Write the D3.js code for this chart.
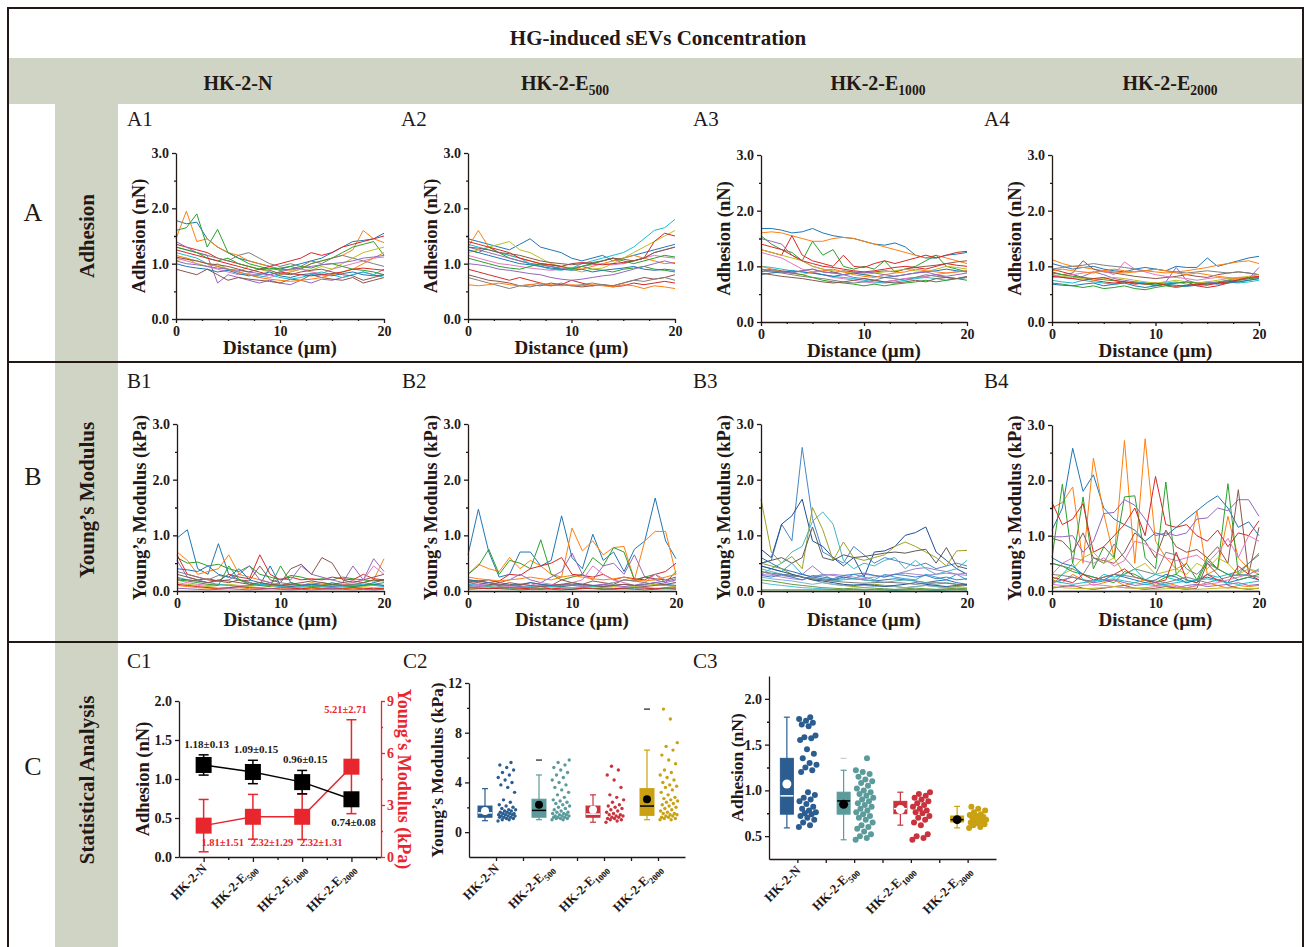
<!DOCTYPE html>
<html lang="en">
<head>
<meta charset="UTF-8">
<title>HG-induced sEVs Concentration</title>
<script src="https://cdnjs.cloudflare.com/ajax/libs/d3/7.8.5/d3.min.js"></script>
<style>
  * { margin: 0; padding: 0; box-sizing: border-box; }
  body { background: #fff; width: 1306px; height: 947px; overflow: hidden; }
  svg { display: block; font-family: 'Times New Roman', 'Liberation Serif', serif; }
  .axis path, .axis line { stroke: #231815; stroke-width: 1.3; }
  .axis text { font-family: 'Times New Roman', 'Liberation Serif', serif; font-size: 14px; font-weight: bold; fill: #231815; }
  .red path, .red line { stroke: #e8262d; }
  .red text { fill: #e8262d; }
</style>
</head>
<body>
<div id="chart"></div>
<script>
// ---- data ----
const distance = [0,1,2,3,4,5,6,7,8,9,10,11,12,13,14,15,16,17,18,19,20];

const adhesionA1 = [
  [1.78,1.72,1.75,1.45,1.3,1.2,1.1, 1.05,1,0.95,0.9,0.95,1,1.05, 1.1,1.2,1.3,1.4,1.42,1.45,1.55],
  [1.45,1.95,1.4,1.45,1.3,1.2,1.15, 1.05,1,0.95,0.9,0.88,0.92,1, 1.05,1.1,1.15,1.25,1.6,1.45,1.38],
  [1.6,1.65,1.9,1.3,1.62,1.2,1.1, 1,0.95,0.9,0.92,0.95,0.9,1, 1.05,1.1,1.2,1.3,1.35,1.4,1.15],
  [1.35,1.3,1.25,1.2,1.1,1.05,1, 0.95,0.9,0.95,1,1.05,1.1,1.2, 1.15,1.2,1.3,1.35,1.4,1.45,1.5],
  [1.4,1.3,1.2,1.15,0.65,0.8,0.75, 0.7,0.65,0.7,0.65,0.62,0.7,0.65, 0.72,0.7,0.75,0.8,0.85,0.8,0.9],
  [0.9,0.85,0.8,0.9,0.8,0.7,0.75, 0.72,0.7,0.68,0.65,0.72,0.7,0.8, 0.75,0.72,0.7,0.75,0.65,0.7,0.75],
  [1.1,1.05,1,0.95,0.9,0.85,0.8, 0.82,0.78,0.75,0.8,0.85,0.9,0.85, 0.82,0.9,0.95,1,1.05,1.1,1.12],
  [1.3,1.25,1.2,1.15,1.1,1.05,1.15, 1.2,1.1,1,0.95,1,0.95,1.05, 1,1.1,1.15,1.1,1.05,1,0.95],
  [1.05,1.1,1,0.95,1,0.9,0.85, 0.95,0.9,0.85,0.8,0.85,0.9,0.88, 0.95,0.9,1,1.1,1.2,1.25,1.3],
  [1.2,1.15,1.1,1,0.95,0.9,0.85, 0.8,0.75,0.8,0.75,0.72,0.75,0.8, 0.85,0.8,0.75,0.8,0.85,0.8,0.75],
  [1,0.95,0.92,0.9,0.85,0.88,0.82, 0.78,0.8,0.85,0.78,0.75,0.8,0.82, 0.8,0.78,0.82,0.85,0.8,0.78,0.8],
  [1.15,1.1,1.05,1,0.95,0.9,0.85, 0.8,0.75,0.72,0.7,0.68,0.7,0.72, 0.75,0.8,0.85,0.9,1,1.1,1.2],
  [1.3,1.25,1.2,1.1,1.05,1.1,1, 0.95,0.9,0.92,0.88,0.9,0.95,0.92, 0.98,1,0.95,0.9,0.88,0.85,0.8],
  [1.25,1.2,1.15,1.1,1.05,1,0.95, 0.9,0.85,0.8,0.85,0.82,0.8,0.78, 0.8,0.82,0.85,0.9,0.92,0.9,0.88],
  [1.05,1,0.98,0.95,0.92,0.9,0.88, 0.85,0.82,0.8,0.85,0.9,0.92,0.95, 0.98,1,1.02,1.05,1.1,1.12,1.15],
  [1.12,1.08,1.05,1,0.98,0.95,0.9, 0.85,0.9,0.88,0.82,0.8,0.85,0.88, 0.9,0.85,0.8,0.78,0.7,0.75,0.8]
];
const adhesionA2 = [
  [1.45,1.4,1.35,1.3,1.25,1.35,1.45, 1.3,1.25,1.2,1.1,1.05,1.1,1.15, 1.05,1.1,1.15,1.2,1.25,1.3,1.35],
  [1.3,1.6,1.3,1.2,1.15,1.1,1.05, 1,0.98,0.95,0.92,0.9,0.95,1, 1.05,1.1,1.15,1.1,1.05,1,1.02],
  [1.25,1.2,1.3,1.2,1.1,1.05,1, 0.98,0.95,0.9,0.92,0.95,0.9,0.88, 0.85,0.9,0.92,0.95,0.9,0.88,0.85],
  [0.9,0.85,0.8,0.75,0.7,0.75,0.7, 0.65,0.6,0.62,0.7,0.65,0.6,0.62, 0.58,0.6,0.65,0.62,0.65,0.68,0.65],
  [1.3,1.25,1.2,1.15,1.1,1.05,1, 0.98,0.95,0.92,0.9,0.95,1,1.05, 1.1,1,1.05,1.1,1.2,1.25,1.3],
  [0.8,0.75,0.7,0.68,0.65,0.6,0.62, 0.6,0.65,0.62,0.6,0.58,0.6,0.62, 0.6,0.65,0.7,0.75,0.72,0.75,0.8],
  [1.15,1.1,1.05,1,0.98,0.95,0.92, 0.9,0.88,0.9,0.92,0.95,0.98,1, 0.98,1,1.05,1.1,1.15,1.12,1.1],
  [0.75,0.7,0.65,0.6,0.55,0.6,0.58, 0.62,0.6,0.65,0.6,0.62,0.65,0.62, 0.6,0.65,0.7,0.68,0.72,0.75,0.7],
  [1.2,1.25,1.3,1.35,1.4,1.25,1.2, 1.1,1,0.95,0.9,0.85,0.9,0.92, 1,1.1,1.2,1.3,1.4,1.5,1.6],
  [1.35,1.3,1.25,1.2,1.15,1.1,1, 0.95,0.9,0.88,0.92,1,1.05,1.1, 1.15,1.2,1.3,1.45,1.6,1.65,1.8],
  [1.25,1.2,1.15,1.1,1.05,1,0.98, 0.95,0.92,0.9,0.88,0.9,0.85,0.88, 0.9,0.92,0.95,0.9,0.88,0.9,0.88],
  [0.62,0.6,0.62,0.65,0.62,0.6,0.62, 0.65,0.62,0.6,0.62,0.6,0.62,0.6, 0.58,0.62,0.6,0.55,0.6,0.58,0.55],
  [1.1,1.05,1,0.95,0.92,0.9,0.95, 1,0.98,0.95,0.9,0.95,1,1.05, 1.1,1.05,1,1.05,1.1,1.15,1.12],
  [1.4,1.35,1.3,1.25,1.2,1.1,1.05, 1,0.98,0.95,1,1.02,1,0.98, 1,1.02,1.05,1.1,1.4,1.55,1.5],
  [1,0.98,0.95,0.9,0.88,0.85,0.82, 0.8,0.75,0.72,0.7,0.72,0.75,0.78, 0.8,0.85,0.9,0.95,1,1.05,1],
  [1.3,1.28,1.25,1.2,1.18,1.15,1.1, 1.05,1.02,1,0.98,1,1.02,1.05, 1.1,1.08,1.05,1.1,1.2,1.25,1.3]
];
const adhesionA3 = [
  [1.68,1.68,1.65,1.6,1.62,1.68,1.6, 1.55,1.52,1.5,1.45,1.4,1.38,1.42, 1.35,1.2,1.15,1.15,1.2,1.22,1.25],
  [1.6,1.62,1.6,1.55,1.5,1.45,1.45, 1.5,1.52,1.5,1.45,1.4,1.35,1.3, 1.25,1.2,1.15,1.2,1.15,1.1,1.05],
  [1.55,1.4,1.3,1.25,1.1,1.45,1.2, 1.3,1,0.95,1,0.95,1.1,0.9, 0.95,1,1.1,1.2,1,0.95,0.9],
  [1.3,1.25,1.2,1.55,1.2,1.1,1.05, 1,1.2,1,0.98,1.05,1.1,1.05, 1.1,1.15,1.2,1.15,1.2,1.25,1.27],
  [1.5,1.45,1.4,1.2,1.1,1,0.95, 0.9,0.85,0.8,0.78,0.75,0.72,0.75, 0.78,0.8,0.82,0.85,0.8,0.78,0.8],
  [0.9,0.95,0.92,0.9,0.92,0.95,0.9, 0.88,0.92,0.9,0.88,0.9,0.92,0.9, 0.95,0.98,1,1.02,1.05,1.08,1.1],
  [1.25,1.2,1.15,1.05,0.95,0.9,0.85, 0.8,0.78,0.75,0.72,0.7,0.72,0.75, 0.78,0.8,0.82,0.85,0.88,0.9,0.92],
  [0.92,0.9,0.88,0.85,0.82,0.8,0.78, 0.75,0.72,0.7,0.72,0.75,0.8,0.78, 0.75,0.8,0.85,0.82,0.8,0.78,0.8],
  [1.3,1.25,1.2,1.15,1.1,1,0.95, 0.92,0.9,0.88,0.85,0.88,0.9,0.92, 0.95,0.92,0.9,0.95,1,0.98,0.95],
  [1,0.98,0.95,0.92,0.9,0.88,0.85, 0.82,0.8,0.78,0.75,0.72,0.7,0.72, 0.75,0.78,0.8,0.78,0.75,0.78,0.8],
  [0.85,0.88,0.9,0.92,0.9,0.88,0.85, 0.82,0.85,0.88,0.85,0.82,0.8,0.82, 0.85,0.88,0.9,0.92,0.95,0.92,0.9],
  [1,0.95,0.9,0.88,0.85,0.9,0.92, 0.95,0.9,0.85,0.82,0.8,0.85,0.88, 0.9,0.95,0.92,0.9,0.88,0.9,0.92],
  [0.95,0.92,0.9,0.88,0.85,0.8,0.75, 0.72,0.7,0.68,0.65,0.68,0.65,0.68, 0.7,0.72,0.75,0.72,0.75,0.78,0.75],
  [1.4,1.35,1.3,1.2,1.1,1.05,1, 0.98,0.95,0.92,0.9,0.92,0.95,0.98, 1,0.98,0.95,1,1.05,1.02,1],
  [0.95,0.92,0.9,0.88,0.92,0.95,0.9, 0.88,0.85,0.88,0.9,0.88,0.85,0.82, 0.85,0.88,0.9,0.85,0.82,0.85,0.88],
  [0.88,0.85,0.82,0.8,0.78,0.75,0.72, 0.7,0.72,0.75,0.78,0.75,0.72,0.7, 0.72,0.75,0.72,0.78,0.8,0.78,0.82]
];
const adhesionA4 = [
  [1.05,1,0.95,0.98,1,0.95,0.92, 0.9,0.95,0.98,0.95,0.92,1,0.98, 0.98,1.15,1,1.05,1.1,1.15,1.18],
  [1.12,1.05,1,0.98,0.95,0.92,0.9, 0.88,0.9,0.92,0.9,0.88,0.9,0.92, 0.95,0.98,1.02,1.05,1.08,1.1,1.05],
  [0.7,0.68,0.65,0.62,0.65,0.6,0.62, 0.65,0.6,0.58,0.62,0.65,0.62,0.65, 0.68,0.7,0.72,0.75,0.72,0.75,0.78],
  [0.95,0.9,0.85,0.8,0.75,0.72,0.7, 0.72,0.68,0.7,0.65,0.68,0.7,0.72, 0.65,0.62,0.65,0.7,0.75,0.78,0.8],
  [0.85,0.8,0.78,0.82,0.9,0.85,0.78, 0.75,0.72,0.7,0.68,0.72,0.98,0.75, 0.7,0.72,0.7,0.75,0.8,0.78,0.98],
  [0.9,0.85,0.88,1.1,0.95,0.9,0.88, 0.85,0.82,0.8,0.78,0.8,0.82,0.85, 0.82,0.8,0.85,0.88,0.9,0.88,0.85],
  [0.8,0.82,0.85,0.88,0.9,0.92,0.85, 1.08,0.95,0.9,0.85,0.82,0.8,0.78, 0.75,0.78,0.8,0.78,0.75,0.78,0.8],
  [0.95,0.98,1,1.02,1.05,1.02,1, 0.98,0.95,0.92,0.95,0.92,0.9,0.88, 0.9,0.92,0.9,0.88,0.9,0.88,0.85],
  [0.85,0.82,0.8,0.78,0.75,0.78,0.8, 0.78,0.75,0.72,0.7,0.72,0.75,0.72, 0.7,0.72,0.75,0.78,0.8,0.82,0.85],
  [0.75,0.72,0.7,0.75,0.72,0.7,0.68, 0.7,0.72,0.7,0.68,0.7,0.72,0.68, 0.65,0.68,0.7,0.72,0.7,0.72,0.75],
  [0.68,0.66,0.65,0.68,0.7,0.65,0.68, 0.7,0.65,0.62,0.65,0.68,0.66,0.64, 0.66,0.7,0.68,0.7,0.72,0.75,0.78],
  [0.92,0.95,0.92,0.9,0.88,0.92,0.95, 0.92,0.9,0.92,0.95,0.92,0.88,0.85, 0.88,0.85,0.82,0.8,0.78,0.8,0.82],
  [0.88,0.85,0.82,0.8,0.78,0.76,0.74, 0.72,0.7,0.68,0.66,0.68,0.7,0.72, 0.7,0.68,0.7,0.72,0.75,0.78,0.8],
  [0.82,0.8,0.78,0.75,0.78,0.8,0.75, 0.72,0.7,0.68,0.7,0.66,0.64,0.66, 0.68,0.66,0.7,0.72,0.76,0.8,0.82]
];

const modulusB1 = [
  [0.95,1.1,0.4,0.3,0.85,0.3,0.2, 0.15,0.1,0.45,0.1,0.15,0.1,0.12, 0.1,0.15,0.1,0.12,0.1,0.15,0.2],
  [0.7,0.55,0.3,0.35,0.4,0.65,0.3, 0.25,0.2,0.15,0.1,0.12,0.1,0.15, 0.12,0.1,0.12,0.1,0.15,0.2,0.58],
  [0.6,0.5,0.52,0.45,0.48,0.4,0.35, 0.45,0.3,0.25,0.2,0.28,0.25,0.2, 0.22,0.2,0.25,0.22,0.2,0.18,0.2],
  [0.65,0.3,0.25,0.2,0.18,0.3,0.25, 0.22,0.65,0.3,0.2,0.25,0.2,0.22, 0.2,0.25,0.22,0.2,0.3,0.22,0.2],
  [0.55,0.25,0.2,0.15,0.18,0.2,0.3, 0.45,0.2,0.15,0.22,0.2,0.45,0.3, 0.25,0.2,0.15,0.45,0.2,0.58,0.35],
  [0.3,0.25,0.2,0.22,0.18,0.15,0.2, 0.18,0.45,0.2,0.15,0.4,0.48,0.3, 0.6,0.5,0.2,0.15,0.2,0.25,0.3],
  [0.2,0.15,0.12,0.1,0.12,0.1,0.08, 0.1,0.12,0.1,0.08,0.1,0.12,0.1, 0.08,0.1,0.12,0.15,0.2,0.45,0.3],
  [0.35,0.3,0.25,0.2,0.28,0.25,0.2, 0.15,0.12,0.1,0.15,0.12,0.1,0.12, 0.15,0.12,0.1,0.12,0.15,0.12,0.1],
  [0.15,0.12,0.1,0.08,0.1,0.12,0.1, 0.08,0.06,0.08,0.1,0.08,0.06,0.05, 0.08,0.06,0.05,0.06,0.08,0.06,0.05],
  [0.25,0.2,0.18,0.15,0.12,0.1,0.08, 0.1,0.12,0.1,0.08,0.06,0.08,0.1, 0.08,0.06,0.08,0.1,0.12,0.1,0.08],
  [0.4,0.38,0.35,0.45,0.3,0.25,0.4, 0.2,0.15,0.12,0.1,0.08,0.1,0.12, 0.1,0.08,0.1,0.08,0.1,0.12,0.1],
  [0.1,0.08,0.06,0.05,0.04,0.05,0.06, 0.04,0.03,0.05,0.04,0.03,0.04,0.05, 0.04,0.03,0.04,0.05,0.04,0.03,0.04],
  [0.2,0.18,0.15,0.12,0.1,0.45,0.2, 0.12,0.1,0.08,0.45,0.15,0.1,0.08, 0.1,0.12,0.1,0.08,0.1,0.12,0.15],
  [0.12,0.1,0.08,0.06,0.05,0.06,0.08, 0.06,0.05,0.04,0.06,0.05,0.04,0.06, 0.05,0.04,0.05,0.06,0.05,0.04,0.05],
  [0.05,0.04,0.03,0.02,0.03,0.04,0.03, 0.02,0.03,0.04,0.03,0.02,0.03,0.02, 0.03,0.04,0.03,0.02,0.03,0.02,0.03],
  [0.22,0.2,0.18,0.15,0.2,0.18,0.15, 0.12,0.15,0.12,0.1,0.12,0.15,0.18, 0.15,0.12,0.15,0.18,0.15,0.2,0.18]
];
const modulusB2 = [
  [0.65,1.47,0.7,0.25,0.3,0.7,0.7, 0.45,0.55,1.35,0.6,0.4,1.02,0.55, 0.7,0.35,0.75,0.9,1.67,0.9,0.58],
  [0.3,0.48,0.4,0.35,0.6,0.4,0.55, 0.45,0.3,0.25,1.13,0.72,0.9,0.65, 0.78,0.8,0.2,0.9,1.07,1.07,0.3],
  [0.3,0.45,0.75,0.3,0.55,0.5,0.4, 0.92,0.3,0.2,0.25,0.3,0.6,0.45, 0.78,0.7,0.2,0.25,0.3,0.15,0.35],
  [0.2,0.18,0.15,0.18,0.3,0.28,0.4, 0.45,0.5,0.6,0.3,0.28,0.25,0.3, 0.2,0.25,0.22,0.2,0.3,0.35,0.5],
  [0.15,0.12,0.1,0.15,0.2,0.3,0.2, 0.15,0.25,0.35,0.68,0.3,0.2,0.45, 0.5,0.3,0.65,0.25,0.2,0.15,0.2],
  [0.15,0.18,0.2,0.15,0.12,0.1,0.15, 0.12,0.1,0.2,0.15,0.12,0.18,0.15, 0.12,0.2,0.18,0.25,0.22,0.2,0.25],
  [0.1,0.12,0.15,0.1,0.08,0.12,0.1, 0.15,0.12,0.1,0.15,0.2,0.45,0.3, 0.2,0.15,0.1,0.15,0.3,0.2,0.15],
  [0.08,0.06,0.05,0.08,0.1,0.08,0.06, 0.05,0.08,0.1,0.12,0.1,0.08,0.12, 0.15,0.2,0.18,0.15,0.12,0.1,0.08],
  [0.05,0.06,0.08,0.06,0.05,0.04,0.06, 0.08,0.1,0.08,0.06,0.05,0.08,0.1, 0.08,0.06,0.08,0.1,0.12,0.1,0.08],
  [0.12,0.1,0.08,0.06,0.05,0.06,0.08, 0.1,0.08,0.06,0.05,0.06,0.08,0.06, 0.05,0.04,0.05,0.06,0.05,0.04,0.06],
  [0.2,0.18,0.15,0.12,0.1,0.12,0.15, 0.12,0.1,0.08,0.1,0.12,0.1,0.08, 0.1,0.12,0.1,0.12,0.15,0.12,0.1],
  [0.25,0.22,0.2,0.18,0.2,0.22,0.25, 0.22,0.2,0.25,0.28,0.25,0.22,0.2, 0.22,0.25,0.2,0.18,0.2,0.25,0.3],
  [0.03,0.04,0.05,0.04,0.03,0.02,0.03, 0.04,0.03,0.02,0.03,0.04,0.05,0.04, 0.03,0.04,0.03,0.02,0.03,0.04,0.03],
  [0.06,0.05,0.04,0.05,0.06,0.05,0.04, 0.03,0.05,0.04,0.03,0.05,0.04,0.03, 0.04,0.05,0.06,0.05,0.04,0.06,0.05],
  [0.1,0.08,0.1,0.12,0.1,0.08,0.06, 0.08,0.1,0.12,0.1,0.08,0.1,0.12, 0.1,0.08,0.1,0.12,0.15,0.18,0.22],
  [0.18,0.15,0.12,0.1,0.15,0.12,0.1, 0.08,0.1,0.12,0.15,0.12,0.1,0.08, 0.1,0.12,0.1,0.08,0.1,0.12,0.15]
];
const modulusB3 = [
  [0.5,0.55,1.2,0.9,2.58,1.3,0.7, 0.6,0.5,0.8,0.65,0.5,0.6,0.55, 0.5,0.45,0.5,0.4,0.45,0.5,0.45],
  [0.75,0.6,1.2,1.35,1.65,0.9,0.8, 0.6,0.45,0.6,0.25,0.7,0.72,0.8, 1,1.05,1.15,0.7,0.55,0.4,0.3],
  [1.65,0.7,0.5,0.62,0.4,1.5,1.1, 0.55,0.88,0.6,0.55,0.6,0.65,0.8, 0.88,0.8,0.7,0.6,0.45,0.72,0.73],
  [0.3,0.4,0.5,0.7,0.8,1.25,1.42, 1.2,0.55,0.4,0.5,0.45,0.55,0.6, 0.4,0.55,0.4,0.3,0.35,0.4,0.55],
  [0.5,0.55,0.6,0.5,0.6,1.15,0.6, 0.55,0.65,0.6,0.62,0.65,0.68,0.7, 0.68,0.72,0.75,0.5,0.78,0.45,0.4],
  [0.45,0.4,0.35,0.5,0.3,0.25,0.3, 0.2,0.22,0.3,0.25,0.2,0.3,0.25, 0.22,0.2,0.3,0.25,0.2,0.3,0.2],
  [0.35,0.3,0.28,0.25,0.3,0.45,0.3, 0.28,0.25,0.22,0.3,0.28,0.25,0.3, 0.35,0.4,0.42,0.38,0.35,0.3,0.32],
  [0.6,0.5,0.4,0.35,0.3,0.25,0.22, 0.2,0.25,0.22,0.2,0.18,0.2,0.22, 0.2,0.18,0.15,0.18,0.2,0.15,0.12],
  [0.5,0.45,0.4,0.3,0.25,0.2,0.15, 0.12,0.1,0.08,0.1,0.12,0.1,0.08, 0.06,0.08,0.1,0.08,0.06,0.08,0.1],
  [0.4,0.35,0.3,0.28,0.25,0.22,0.2, 0.18,0.2,0.22,0.2,0.18,0.15,0.18, 0.2,0.18,0.15,0.12,0.15,0.12,0.1],
  [0.25,0.22,0.2,0.18,0.15,0.12,0.15, 0.12,0.1,0.12,0.1,0.08,0.1,0.08, 0.06,0.08,0.1,0.08,0.06,0.05,0.06],
  [0.3,0.28,0.25,0.22,0.2,0.25,0.28, 0.3,0.28,0.25,0.22,0.25,0.28,0.3, 0.32,0.3,0.28,0.3,0.32,0.3,0.28],
  [0.45,0.4,0.35,0.3,0.25,0.2,0.18, 0.15,0.12,0.1,0.12,0.1,0.08,0.1, 0.12,0.15,0.12,0.1,0.08,0.1,0.12],
  [0.2,0.18,0.15,0.12,0.1,0.08,0.06, 0.05,0.04,0.05,0.06,0.05,0.04,0.03, 0.04,0.05,0.04,0.03,0.04,0.05,0.04],
  [0.35,0.32,0.3,0.28,0.25,0.22,0.2, 0.18,0.16,0.15,0.14,0.15,0.16,0.15, 0.14,0.12,0.14,0.15,0.14,0.12,0.1],
  [0.15,0.12,0.1,0.08,0.06,0.05,0.04, 0.03,0.02,0.03,0.02,0.03,0.02,0.01, 0.02,0.03,0.02,0.01,0.02,0.03,0.02],
  [0.02,0.02,0.02,0.02,0.02,0.02,0.02, 0.02,0.02,0.02,0.02,0.02,0.02,0.02, 0.02,0.02,0.02,0.02,0.02,0.02,0.02],
  [0.28,0.25,0.3,0.25,0.2,0.28,0.25, 0.22,0.28,0.3,0.32,0.28,0.25,0.3, 0.28,0.25,0.28,0.22,0.25,0.2,0.22]
];
const modulusB4 = [
  [1.1,1.5,2.58,1.8,2.1,1.5,1.3, 1.2,1.1,0.9,1.05,1,1.15,1.3, 1.45,1.6,1.72,1.5,1.15,1.25,1],
  [1.5,1.6,1.88,0.5,2.4,1.4,0.6, 2.72,0.5,2.75,0.9,0.6,0.4,0.5, 1.45,0.3,0.4,1.35,0.6,0.4,0.3],
  [0.6,1.93,0.5,1.7,0.4,0.8,0.6, 1.7,1.72,0.6,0.4,1.97,0.3,0.5, 0.2,0.6,0.4,1.94,0.3,0.5,0.68],
  [1.6,1.2,1.3,1.58,0.7,0.8,1, 1.2,1.5,1,2.07,1.2,1.15,1.2, 1,0.9,1.1,0.8,1.05,1,1.27],
  [0.98,0.98,1,0.7,0.9,1.4,1.42, 1.65,1.55,1.3,1,1.05,1,1.05, 1.3,1.32,1.5,1.45,1.65,1.65,1.35],
  [0.95,0.9,0.7,1.05,0.6,0.55,0.5, 0.7,1.05,0.9,0.6,1.1,0.8,0.7, 0.75,0.6,0.8,0.5,1.83,0.3,1.15],
  [0.3,0.5,0.6,0.55,0.5,0.6,0.45, 0.55,0.9,0.85,0.7,0.6,0.55,0.6, 0.65,0.5,0.7,0.95,0.6,1,0.9],
  [0.5,0.45,0.4,0.3,0.6,0.5,0.85, 0.6,0.4,0.35,0.3,0.7,0.65,0.4, 0.3,0.5,0.4,0.3,0.35,0.5,0.65],
  [0.2,0.3,0.4,0.6,0.7,0.5,0.6, 0.3,0.4,0.5,0.3,0.35,0.4,0.3, 0.5,0.4,0.6,0.5,0.3,0.4,0.35],
  [0.1,0.3,0.5,0.2,0.15,0.3,0.25, 0.3,0.4,0.2,0.3,0.25,0.2,0.15, 0.2,0.3,0.25,0.3,0.28,0.3,0.4],
  [0.6,0.5,0.45,0.3,0.25,0.2,0.3, 0.25,0.2,0.15,0.2,0.3,0.25,0.15, 0.2,0.25,0.2,0.15,0.2,0.25,0.2],
  [0.2,0.15,0.3,0.2,0.1,0.15,0.2, 0.1,0.15,0.2,0.1,0.15,0.1,0.05, 0.1,0.15,0.1,0.05,0.1,0.08,0.1],
  [0.5,0.45,0.35,0.3,0.25,0.2,0.15, 0.35,0.3,0.2,0.15,0.25,0.3,0.2, 0.15,0.55,0.4,0.3,0.2,0.25,0.3],
  [0.25,0.2,0.15,0.3,0.2,0.25,0.3, 0.4,0.25,0.2,0.15,0.2,0.7,0.2, 0.15,0.3,0.2,0.15,0.45,0.3,0.2],
  [0.15,0.2,0.25,0.2,0.15,0.18,0.2, 0.15,0.1,0.12,0.15,0.1,0.05,0.1, 0.12,0.08,0.1,0.12,0.15,0.1,0.12],
  [0.05,0.08,0.1,0.05,0.03,0.05,0.08, 0.1,0.05,0.03,0.05,0.08,0.05,0.03, 0.05,0.5,0.3,0.1,0.05,0.03,0.05],
  [0.12,0.1,0.08,0.1,0.12,0.1,0.08, 0.06,0.05,0.06,0.08,0.1,0.08,0.06, 0.1,0.12,0.15,0.2,0.25,0.3,0.38],
  [0.3,0.28,0.25,0.2,0.18,0.25,0.3, 0.28,0.25,0.2,0.18,0.15,0.2,0.25, 0.2,0.15,0.2,0.25,0.3,0.28,0.25],
  [0.08,0.06,0.05,0.04,0.05,0.06,0.08, 0.06,0.05,0.04,0.03,0.04,0.05,0.04, 0.03,0.04,0.05,0.06,0.05,0.04,0.05],
  [0.18,0.15,0.12,0.15,0.18,0.2,0.22, 0.18,0.15,0.12,0.1,0.12,0.15,0.18, 0.2,0.22,0.18,0.15,0.12,0.15,0.18]
];

// groups
const groupNames = ['HK-2-N', 'HK-2-E', 'HK-2-E', 'HK-2-E'];
const groupSubs = ['', '500', '1000', '2000'];

// C1: mean ± SD
const adhesionMean = [1.18, 1.09, 0.96, 0.74];
const adhesionSD = [0.13, 0.15, 0.15, 0.08];
const modulusMean = [1.81, 2.32, 2.32, 5.21];
const modulusSD = [1.51, 1.29, 1.31, 2.71];

// C2: Young's modulus (kPa) box stats + points
const c2Low = [0.92, 1.0, 0.8, 1.0];
const c2Q1 = [1.2, 1.2, 1.2, 1.35];
const c2Median = [1.55, 1.75, 1.45, 2.1];
const c2Q3 = [2.1, 2.65, 2.1, 3.5];
const c2High = [3.5, 4.6, 3.0, 6.6];
const c2Mean = [1.7, 2.2, 1.8, 2.65];
const c2Outlier = [null, 5.8, null, 9.9];
const c2Points = [
  [0.9,1,1,1.1,1.1,1.2,1.2,1.2,1.3,1.3,1.3,1.4,1.4,1.4,1.5,1.5,1.5,1.6,1.6,1.7,1.7,1.8,1.8,1.9,2,2.1,2.2,2.4,2.6,3.2,3.6,3.8,4,4.2,4.4,4.6,4.8,5,5.2,5.4,5.6],
  [1,1,1.1,1.1,1.1,1.2,1.2,1.2,1.3,1.3,1.3,1.4,1.4,1.5,1.5,1.6,1.6,1.7,1.8,1.9,2,2.1,2.2,2.3,2.4,2.5,2.6,2.8,3,3.2,3.4,3.6,3.8,4,4.2,4.4,4.6,4.8,5,5.2,5.4,5.6,5.8],
  [0.8,0.9,1,1,1.1,1.1,1.2,1.2,1.3,1.3,1.4,1.4,1.5,1.6,1.7,1.8,1.9,2,2.1,2.2,2.4,2.6,2.8,3,3.6,4.2,4.6,5,5.3],
  [1,1,1.1,1.1,1.2,1.2,1.3,1.3,1.4,1.4,1.5,1.5,1.6,1.7,1.8,1.9,2,2.1,2.2,2.3,2.4,2.5,2.6,2.7,2.8,3,3.2,3.4,3.6,3.7,3.8,4,4.2,4.4,4.6,4.8,5,5.5,5.8,6.2,6.6,6.9,7.2,9.1,9.9]
];

// C3: adhesion (nN) box stats + points
const c3Low = [0.59, 0.46, 0.62, 0.59];
const c3Q1 = [0.74, 0.74, 0.745, 0.655];
const c3Median = [0.94, 0.885, 0.8, 0.68];
const c3Q3 = [1.35, 0.98, 0.88, 0.72];
const c3High = [1.8, 1.22, 0.98, 0.825];
const c3Mean = [1.07, 0.847, 0.79, 0.68];
const c3Outlier = [null, 1.35, null, null];
const c3Points = [
  [0.6,0.62,0.65,0.68,0.7,0.72,0.74,0.75,0.76,0.78,0.8,0.82,0.85,0.88,0.9,0.92,0.95,0.98,1.2,1.22,1.25,1.28,1.3,1.35,1.4,1.45,1.55,1.57,1.58,1.6,1.7,1.72,1.74,1.76,1.78,1.8],
  [0.46,0.48,0.5,0.52,0.55,0.58,0.6,0.62,0.65,0.68,0.7,0.72,0.74,0.76,0.78,0.8,0.82,0.84,0.86,0.88,0.9,0.92,0.94,0.96,0.98,1,1.02,1.05,1.08,1.1,1.12,1.15,1.18,1.2,1.22,1.35],
  [0.46,0.48,0.5,0.52,0.62,0.65,0.68,0.7,0.72,0.75,0.76,0.78,0.8,0.82,0.84,0.86,0.88,0.9,0.92,0.94,0.96,0.98],
  [0.59,0.6,0.62,0.63,0.64,0.65,0.66,0.67,0.68,0.69,0.7,0.71,0.72,0.73,0.74,0.76,0.78,0.8,0.82]
];

// ---- drawing ----
const ink = '#231815';
const band = '#cfd4c5';
const red = '#e8262d';
const boxColors = ['#2b5d90', '#5c9b9b', '#c8333d', '#c9a112'];
const markColors = ['#fff', '#000', '#fff', '#000'];
const linePalette = d3.schemeCategory10;
const b3Palette = ['#4a86c5','#1f4e96','#a0a028','#3fb6c4','#5a5a5a','#2fa8d8','#9b7fc4','#2f6fb8',
                   '#8a9a30','#4bb8b0','#7fb0e0','#a888d0','#23508f','#6a9a3a','#777777','#50c0d0','#3a9a3a','#3f7fc0'];

const svg = d3.select('#chart').append('svg').attr('width', 1306).attr('height', 947);

// frame and bands
svg.append('rect').attr('x', 9).attr('y', 58).attr('width', 1293).attr('height', 46).attr('fill', band);
svg.append('rect').attr('x', 55).attr('y', 104).attr('width', 63).attr('height', 850).attr('fill', band);
svg.append('rect').attr('x', 8).attr('y', 8).attr('width', 1295).attr('height', 1000)
  .attr('fill', 'none').attr('stroke', ink).attr('stroke-width', 2);
[362, 642].forEach(y => svg.append('line').attr('x1', 8).attr('x2', 1303).attr('y1', y).attr('y2', y)
  .attr('stroke', ink).attr('stroke-width', 2));

svg.append('text').attr('x', 658).attr('y', 45).attr('text-anchor', 'middle')
  .attr('font-size', 21).attr('font-weight', 'bold').attr('fill', ink).text('HG-induced sEVs Concentration');

function groupText(parent, i, size, subDy) {
  const t = parent.append('text').attr('font-size', size).attr('font-weight', 'bold').attr('fill', ink);
  t.append('tspan').text(groupNames[i]);
  if (groupSubs[i]) t.append('tspan').attr('font-size', size * 0.68).attr('dy', subDy).text(groupSubs[i]);
  return t;
}

const headerX = [238, 565, 878, 1170];
headerX.forEach((x, i) => groupText(svg, i, 20, 5).attr('x', x).attr('y', 90).attr('text-anchor', 'middle'));

// row letters and titles
[['A', 212], ['B', 476], ['C', 766]].forEach(([t, y]) =>
  svg.append('text').attr('x', 33).attr('y', y).attr('text-anchor', 'middle').attr('dy', '0.35em')
    .attr('font-size', 26).attr('fill', ink).text(t));
[['Adhesion', 236], ['Young\u2019s Modulus', 500], ['Statistical Analysis', 780]].forEach(([t, y]) =>
  svg.append('text').attr('transform', `translate(87,${y}) rotate(-90)`).attr('text-anchor', 'middle')
    .attr('dy', '0.35em').attr('font-size', 21).attr('font-weight', 'bold').attr('fill', ink).text(t));

function panelLabel(x, y, t) {
  svg.append('text').attr('x', x).attr('y', y).attr('font-size', 21).attr('fill', ink).text(t);
}

function linePanel(p) {
  const x = d3.scaleLinear().domain([0, 20]).range([p.left, p.right]);
  const y = d3.scaleLinear().domain([0, 3]).range([p.bottom, p.top]);
  const g = svg.append('g');
  const line = d3.line().x((d, i) => x(distance[i])).y(d => y(d));
  g.selectAll('path.trace').data(p.traces).join('path').attr('class', 'trace')
    .attr('d', line).attr('fill', 'none').attr('stroke-width', 1)
    .attr('stroke', (d, i) => p.palette[i % p.palette.length]);

  g.append('g').attr('class', 'axis').attr('transform', `translate(0,${p.bottom})`)
    .call(d3.axisBottom(x).tickValues([0, 10, 20]).tickSize(4).tickSizeOuter(0).tickFormat(d3.format('d')));
  g.append('g').attr('class', 'axis').attr('transform', `translate(0,${p.bottom})`)
    .call(d3.axisBottom(x).tickValues([2.5, 5, 7.5, 12.5, 15, 17.5]).tickSize(2).tickFormat(''))
    .call(s => s.select('.domain').remove());
  g.append('g').attr('class', 'axis').attr('transform', `translate(${p.left},0)`)
    .call(d3.axisLeft(y).tickValues([0, 1, 2, 3]).tickSize(4).tickSizeOuter(0).tickFormat(d3.format('.1f')));
  g.append('g').attr('class', 'axis').attr('transform', `translate(${p.left},0)`)
    .call(d3.axisLeft(y).tickValues([0.5, 1.5, 2.5]).tickSize(2).tickFormat(''))
    .call(s => s.select('.domain').remove());

  g.append('text').attr('transform', `translate(${p.left - 37},${(p.top + p.bottom) / 2}) rotate(-90)`)
    .attr('text-anchor', 'middle').attr('dy', '0.35em').attr('font-size', 18.5).attr('font-weight', 'bold')
    .attr('fill', ink).text(p.yLabel);
  g.append('text').attr('x', (p.left + p.right) / 2).attr('y', p.bottom + 28).attr('dy', '0.35em')
    .attr('text-anchor', 'middle').attr('font-size', 19).attr('font-weight', 'bold').attr('fill', ink)
    .text('Distance (\u00b5m)');
  panelLabel(p.labelX, p.labelY, p.label);
}

const adhLabel = 'Adhesion (nN)';
const modLabel = 'Young\u2019s Modulus (kPa)';
linePanel({ left: 176, right: 384, top: 153, bottom: 319, traces: adhesionA1, palette: linePalette, yLabel: adhLabel, label: 'A1', labelX: 127, labelY: 126 });
linePanel({ left: 468, right: 675, top: 153, bottom: 319, traces: adhesionA2, palette: linePalette, yLabel: adhLabel, label: 'A2', labelX: 401, labelY: 126 });
linePanel({ left: 761, right: 967, top: 155, bottom: 322, traces: adhesionA3, palette: linePalette, yLabel: adhLabel, label: 'A3', labelX: 693, labelY: 126 });
linePanel({ left: 1052, right: 1259, top: 155, bottom: 322, traces: adhesionA4, palette: linePalette, yLabel: adhLabel, label: 'A4', labelX: 984, labelY: 126 });
linePanel({ left: 177, right: 384, top: 424, bottom: 591, traces: modulusB1, palette: linePalette, yLabel: modLabel, label: 'B1', labelX: 127, labelY: 388 });
linePanel({ left: 468, right: 676, top: 424, bottom: 591, traces: modulusB2, palette: linePalette, yLabel: modLabel, label: 'B2', labelX: 402, labelY: 388 });
linePanel({ left: 761, right: 967, top: 424, bottom: 591, traces: modulusB3, palette: b3Palette, yLabel: modLabel, label: 'B3', labelX: 693, labelY: 388 });
linePanel({ left: 1052, right: 1259, top: 425, bottom: 591, traces: modulusB4, palette: linePalette, yLabel: modLabel, label: 'B4', labelX: 984, labelY: 388 });

// rotated category labels under an x axis
function categoryLabels(g, x, bottom, size) {
  groupNames.forEach((n, i) => {
    groupText(g, i, size, 4).attr('text-anchor', 'end')
      .attr('transform', `translate(${x(i + 1) + 4},${bottom + 12}) rotate(-45)`);
  });
}

// ---- C1 ----
(function () {
  const left = 179, right = 381, top = 701, bottom = 857;
  const x = d3.scaleLinear().domain([0.5, 4.6]).range([left, right]);
  const yA = d3.scaleLinear().domain([0, 2]).range([bottom, top]);
  const yM = d3.scaleLinear().domain([0, 9]).range([bottom, top]);
  const g = svg.append('g');

  g.append('g').attr('class', 'axis').attr('transform', `translate(0,${bottom})`)
    .call(d3.axisBottom(x).tickValues([1, 2, 3, 4]).tickSize(5).tickSizeOuter(0).tickFormat(''));
  g.append('g').attr('class', 'axis').attr('transform', `translate(0,${bottom})`)
    .call(d3.axisBottom(x).tickValues([1.5, 2.5, 3.5, 4.5]).tickSize(3).tickFormat(''))
    .call(s => s.select('.domain').remove());
  g.append('g').attr('class', 'axis').attr('transform', `translate(${left},0)`)
    .call(d3.axisLeft(yA).tickValues([0, 0.5, 1, 1.5, 2]).tickSize(4).tickSizeOuter(0).tickFormat(d3.format('.1f')));
  g.append('g').attr('class', 'axis red').attr('transform', `translate(${right},0)`)
    .call(d3.axisRight(yM).tickValues([0, 3, 6, 9]).tickSize(4).tickPadding(2).tickSizeOuter(0).tickFormat(d3.format('d')));
  g.append('g').attr('class', 'axis red').attr('transform', `translate(${right},0)`)
    .call(d3.axisRight(yM).tickValues([1.5, 4.5, 7.5]).tickSize(2).tickFormat(''))
    .call(s => s.select('.domain').remove());

  function series(mean, sd, y, color) {
    g.append('path').datum(mean).attr('fill', 'none').attr('stroke', color).attr('stroke-width', 1.5)
      .attr('d', d3.line().x((d, i) => x(i + 1)).y(d => y(d)));
    mean.forEach((m, i) => {
      const cx = x(i + 1);
      g.append('line').attr('x1', cx).attr('x2', cx).attr('y1', y(m - sd[i])).attr('y2', y(m + sd[i]))
        .attr('stroke', color).attr('stroke-width', 1.5);
      [m - sd[i], m + sd[i]].forEach(v => g.append('line').attr('x1', cx - 5).attr('x2', cx + 5)
        .attr('y1', y(v)).attr('y2', y(v)).attr('stroke', color).attr('stroke-width', 1.5));
      g.append('rect').attr('x', cx - 8).attr('y', y(m) - 8).attr('width', 16).attr('height', 16).attr('fill', color);
    });
  }
  series(modulusMean, modulusSD, yM, red);
  series(adhesionMean, adhesionSD, yA, '#000');

  const fmt = d3.format('.2f');
  adhesionMean.forEach((m, i) => {
    const below = i === 3;
    g.append('text').attr('x', x(i + 1) + (below ? 2 : 3))
      .attr('y', below ? yA(m - adhesionSD[i]) + 20 : yA(m + adhesionSD[i]) - 7)
      .attr('text-anchor', 'middle').attr('font-size', 11).attr('font-weight', 'bold').attr('fill', ink)
      .text(`${fmt(m)}\u00b1${fmt(adhesionSD[i])}`);
  });
  modulusMean.forEach((m, i) => {
    const above = i === 3;
    g.append('text').attr('x', above ? x(i + 1) - 6 : x(i + 1) + 19)
      .attr('y', above ? yM(m + modulusSD[i]) - 7 : 846)
      .attr('text-anchor', 'middle').attr('font-size', 10.5).attr('font-weight', 'bold').attr('fill', red)
      .text(`${fmt(m)}\u00b1${fmt(modulusSD[i])}`);
  });

  g.append('text').attr('transform', `translate(143,${(top + bottom) / 2}) rotate(-90)`).attr('text-anchor', 'middle')
    .attr('dy', '0.35em').attr('font-size', 18.5).attr('font-weight', 'bold').attr('fill', ink).text(adhLabel);
  g.append('text').attr('transform', `translate(404,${(top + bottom) / 2}) rotate(90)`).attr('text-anchor', 'middle')
    .attr('dy', '0.35em').attr('font-size', 18).attr('font-weight', 'bold').attr('fill', red).text(modLabel);
  categoryLabels(g, x, bottom, 13);
  panelLabel(127, 668, 'C1');
})();

// ---- box + scatter panels ----
function jitter(i, w) { return ((i * 0.618034) % 1 - 0.5) * w; }

function boxPanel(p) {
  const x = d3.scaleLinear().domain([0.5, 4.5]).range([p.left, p.right]);
  const y = d3.scaleLinear().domain(p.domain).range([p.bottom, p.top]);
  const g = svg.append('g');

  g.append('g').attr('class', 'axis').attr('transform', `translate(0,${p.bottom})`)
    .call(d3.axisBottom(x).tickValues([1, 1.5, 2, 2.5, 3, 3.5, 4]).tickSize(4).tickSizeOuter(0).tickFormat(''));
  g.append('g').attr('class', 'axis').attr('transform', `translate(${p.left},0)`)
    .call(d3.axisLeft(y).tickValues(p.ticks).tickSize(4).tickSizeOuter(0).tickFormat(p.fmt));
  g.append('g').attr('class', 'axis').attr('transform', `translate(${p.left},0)`)
    .call(d3.axisLeft(y).tickValues(p.minor).tickSize(2).tickFormat(''))
    .call(s => s.select('.domain').remove());

  groupNames.forEach((n, i) => {
    const c = boxColors[i];
    const bx = x(i + 1) - p.off, sx = x(i + 1) + p.off, hw = p.boxW / 2;
    g.append('line').attr('x1', bx).attr('x2', bx).attr('y1', y(p.low[i])).attr('y2', y(p.high[i]))
      .attr('stroke', c).attr('stroke-width', 1.2);
    [p.low[i], p.high[i]].forEach(v => g.append('line').attr('x1', bx - 3).attr('x2', bx + 3)
      .attr('y1', y(v)).attr('y2', y(v)).attr('stroke', c).attr('stroke-width', 1.2));
    g.append('rect').attr('x', bx - hw).attr('y', y(p.q3[i])).attr('width', p.boxW)
      .attr('height', y(p.q1[i]) - y(p.q3[i])).attr('fill', c).attr('stroke', c);
    g.append('line').attr('x1', bx - hw).attr('x2', bx + hw).attr('y1', y(p.median[i])).attr('y2', y(p.median[i]))
      .attr('stroke', markColors[i]).attr('stroke-width', 1.5);
    g.append('circle').attr('cx', bx).attr('cy', y(p.mean[i])).attr('r', p.meanR).attr('fill', markColors[i]);
    if (p.outlier[i] != null) {
      g.append('line').attr('x1', bx - 3).attr('x2', bx + 3).attr('y1', y(p.outlier[i])).attr('y2', y(p.outlier[i]))
        .attr('stroke', i === 1 && p.lightOut ? '#ccc' : ink).attr('stroke-width', 1.2);
    }
    g.selectAll(null).data(p.points[i]).join('circle')
      .attr('cx', (d, j) => sx + jitter(j, p.spread)).attr('cy', d => y(d))
      .attr('r', p.dotR).attr('fill', c);
  });

  g.append('text').attr('transform', `translate(${p.left - p.labelGap},${(p.top + p.bottom) / 2}) rotate(-90)`)
    .attr('text-anchor', 'middle').attr('dy', '0.35em').attr('font-size', 17.5).attr('font-weight', 'bold')
    .attr('fill', ink).text(p.yLabel);
  categoryLabels(g, x, p.bottom, 13);
  panelLabel(p.labelX, 668, p.label);
}

boxPanel({ left: 469, right: 685, top: 683, bottom: 857, domain: [-2, 12], ticks: [0, 4, 8, 12], minor: [2, 6, 10],
  fmt: d3.format('d'), low: c2Low, q1: c2Q1, median: c2Median, q3: c2Q3, high: c2High, mean: c2Mean,
  outlier: c2Outlier, points: c2Points, off: 11, boxW: 14, meanR: 4, dotR: 1.7, spread: 18,
  yLabel: modLabel, labelGap: 32, label: 'C2', labelX: 403 });
boxPanel({ left: 769, right: 996, top: 676, bottom: 859, domain: [0.25, 2.25], ticks: [0.5, 1, 1.5, 2], minor: [0.75, 1.25, 1.75],
  fmt: d3.format('.1f'), low: c3Low, q1: c3Q1, median: c3Median, q3: c3Q3, high: c3High, mean: c3Mean,
  outlier: c3Outlier, points: c3Points, off: 10.5, boxW: 13, meanR: 4.5, dotR: 3, spread: 18, lightOut: true,
  yLabel: adhLabel, labelGap: 32, label: 'C3', labelX: 693 });
</script>
</body>
</html>
